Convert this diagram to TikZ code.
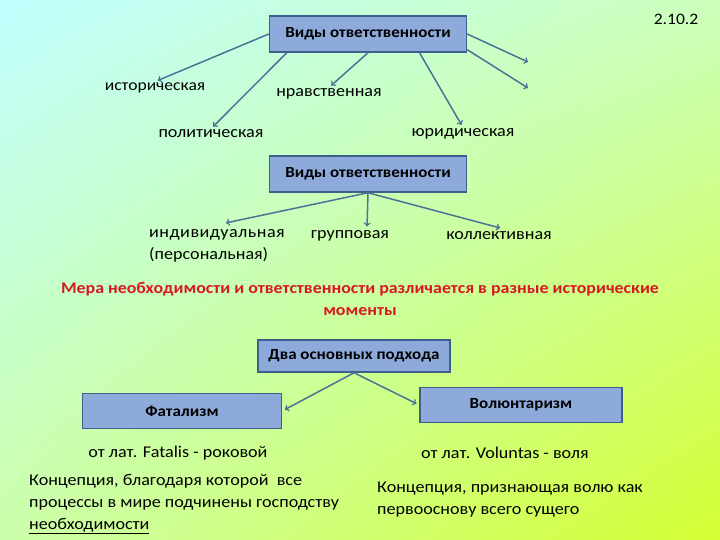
\documentclass[tikz,border=0pt]{standalone}
\usepackage{fontspec}
\setmainfont{Carlito}[FakeStretch=1.1]
\usetikzlibrary{shadings}
\definecolor{boxfill}{RGB}{142,170,219}
\definecolor{boxline}{RGB}{60,95,140}
\definecolor{arrcol}{RGB}{75,115,150}
\definecolor{redtxt}{RGB}{215,25,35}
\definecolor{bgul}{RGB}{192,255,255}
\definecolor{bgur}{RGB}{204,255,187}
\definecolor{bgll}{RGB}{204,255,170}
\definecolor{bglr}{RGB}{212,255,51}
\tikzset{
  vbox/.style={draw=boxline,line width=1.5bp,fill=boxfill,inner sep=0pt,
    font=\bfseries\fontsize{15.5}{18}\selectfont,minimum width=197bp,minimum height=36bp},
  lbl/.style={font=\fontsize{16.5}{22}\selectfont,inner sep=1bp},
  arr/.style={->,draw=arrcol,line width=1.5bp,shorten >=3bp}
}
\begin{document}
\begin{tikzpicture}[x=1bp,y=-1bp]
\shade[upper left=bgul,upper right=bgur,lower left=bgll,lower right=bglr]
  (0,0) rectangle (720,540);
\useasboundingbox (0,0) rectangle (720,540);
% first scheme
\node[vbox] (vid1) at (368,34) {Виды ответственности};
\node[lbl,font=\fontsize{16}{20}\selectfont] (num) at (676,19) {2.10.2};
\node[lbl,font=\fontsize{16}{22}\selectfont] (hist) at (155,88) {историческая};
\node[lbl] (nrav) at (329,94) {нравственная};
\node[lbl] (polit) at (211,134) {политическая};
\node[lbl] (jur) at (463,134) {юридическая};
\coordinate (e1) at (528,62);
\coordinate (e2) at (528,88);
\draw[arr] (vid1.west) -- (hist.north);
\draw[arr] (vid1.193) -- (polit.north);
\draw[arr] (vid1.south) -- (nrav.north);
\draw[arr] (vid1.-20) -- (jur.north);
\draw[arr,shorten >=0pt] (vid1.-9.5) -- (e2);
\draw[arr,shorten >=0pt] (vid1.east) -- (e1);
% second scheme
\node[vbox] (vid2) at (368,174) {Виды ответственности};
\node[lbl,align=left,anchor=west] (ind) at (148,246)
  {\addfontfeature{LetterSpace=3}индивидуальная\\(персональная)};
\node[lbl] (grp) at (350,236) {групповая};
\node[lbl] (kol) at (499,236) {коллективная};
\draw[arr] (vid2.south) -- ([xshift=6,yshift=5]ind.north);
\draw[arr] (vid2.south) -- ([xshift=17]grp.north);
\draw[arr] (vid2.south) -- ([xshift=4,yshift=2]kol.north);
\node[lbl,align=center,text=redtxt,font=\bfseries\fontsize{16.3}{22}\selectfont] (mera) at (360,299)
  {Мера необходимости и ответственности различается в разные исторические\\моменты};
% two approaches
\node[vbox,minimum width=192bp,minimum height=32bp] (podh) at (354,356) {Два основных подхода};
\node[vbox,minimum width=199bp,minimum height=35bp] (fat) at (182,411) {Фатализм};
\node[vbox,minimum width=202bp,minimum height=35bp] (vol) at (521,405) {Волюнтаризм};
\draw[arr] (podh.south) -- (fat.east);
\draw[arr] (podh.south) -- (vol.west);
\node[lbl] (fatlat) at (178,453) {от лат. Fatalis - роковой};
\node[lbl] (vollat) at (505,453) {от лат. Voluntas - воля};
\node[lbl,align=left,anchor=north west] (fatdesc) at (28,473)
  {Концепция, благодаря которой \ все\\процессы в мире подчинены господству\\\underline{необходимости}};
\node[lbl,align=left,anchor=north west] (voldesc) at (376,481)
  {Концепция, признающая волю как\\первооснову всего сущего};
\end{tikzpicture}
\end{document}
